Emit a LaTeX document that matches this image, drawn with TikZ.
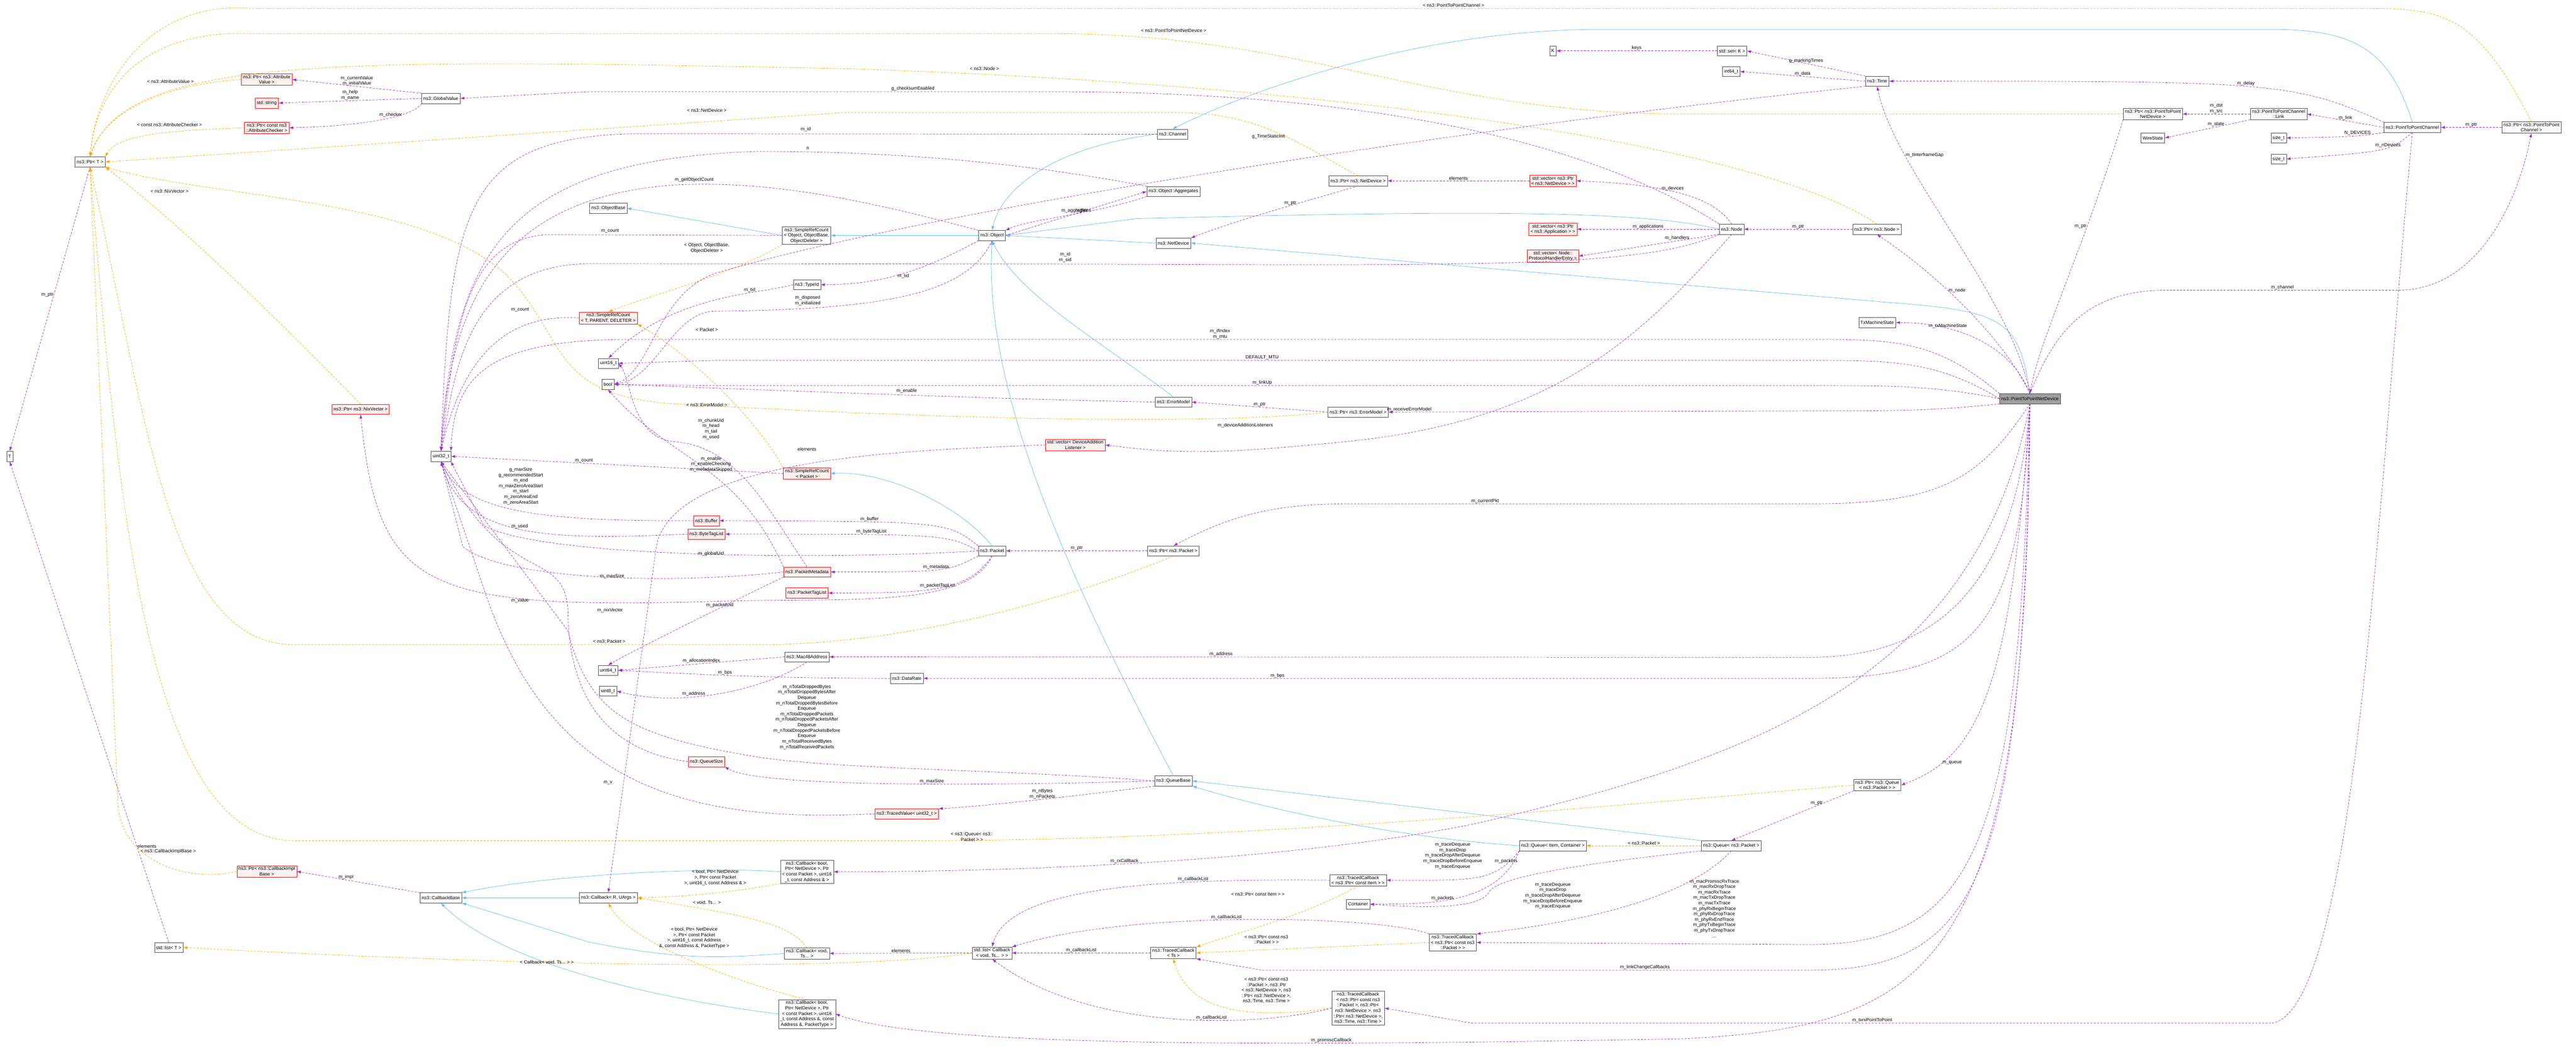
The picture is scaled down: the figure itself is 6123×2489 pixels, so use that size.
\documentclass[tikz,border=0pt]{standalone}
\usepackage{fontspec}
\setmainfont{Liberation Sans}
\usetikzlibrary{arrows.meta}
\definecolor{cpur}{HTML}{9A32CD}
\definecolor{corg}{HTML}{FFA500}
\definecolor{cblu}{HTML}{63B8FF}
\tikzset{
 bx/.style={draw=gray!60!black,fill=white,inner xsep=4pt,inner ysep=3pt,minimum height=24pt,align=center,font=\fontsize{11}{13}\selectfont},
 rbx/.style={bx,draw=red,fill=red!6},
 gbx/.style={bx,fill=gray!75},
 lbl/.style={font=\fontsize{11}{13}\selectfont,align=center,inner sep=1pt},
 uline/.style={draw=cpur,dashed,dash pattern=on 5pt off 3pt,line width=0.9pt,-{Latex[length=10pt,width=7pt]}},
 tline/.style={draw=corg,dashed,dash pattern=on 5pt off 3pt,line width=0.9pt,-{Latex[length=10pt,width=7pt]}},
 iline/.style={draw=cblu,line width=0.9pt,-{Latex[length=10pt,width=7pt]}},
}
\begin{document}
\begin{tikzpicture}[x=1pt,y=-1pt]
\useasboundingbox (0,0) rectangle (6123,2489);
% nodes
\node[bx] (ptrT) at (214,385) {ns3::Ptr< T >};
\node[bx] (T) at (23,1085) {T};
\node[rbx] (pav) at (634,189) {ns3::Ptr< ns3::Attribute\\Value >};
\node[rbx] (str) at (634,245) {std::string};
\node[rbx] (pac) at (634,304) {ns3::Ptr< const ns3\\::AttributeChecker >};
\node[bx] (gv) at (1048,234) {ns3::GlobalValue};
\node[bx] (ob) at (1446,495) {ns3::ObjectBase};
\node[bx] (src) at (1917,560) {ns3::SimpleRefCount\\< Object, ObjectBase,\\ObjectDeleter >};
\node[bx] (tid) at (1918,677) {ns3::TypeId};
\node[rbx] (srt) at (1446,756) {ns3::SimpleRefCount\\< T, PARENT, DELETER >};
\node[bx] (u16) at (1446,864) {uint16\_t};
\node[bx] (bool) at (1445,914) {bool};
\node[rbx] (pnix) at (857,973) {ns3::Ptr< ns3::NixVector >};
\node[bx] (u32) at (1048,1085) {uint32\_t};
\node[rbx] (srp) at (1918,1126) {ns3::SimpleRefCount\\< Packet >};
\node[rbx] (buf) at (1679,1238) {ns3::Buffer};
\node[rbx] (btl) at (1679,1270) {ns3::ByteTagList};
\node[rbx] (pmd) at (1918,1360) {ns3::PacketMetadata};
\node[rbx] (ptl) at (1918,1410) {ns3::PacketTagList};
\node[bx] (mac) at (1918,1562) {ns3::Mac48Address};
\node[bx] (u64) at (1445,1594) {uint64\_t};
\node[bx] (u8) at (1445,1643) {uint8\_t};
\node[rbx] (qs) at (1679,1811) {ns3::QueueSize};
\node[rbx] (pcib) at (634,2072) {ns3::Ptr< ns3::CallbackImpl\\Base >};
\node[bx] (cbb) at (1048,2135) {ns3::CallbackBase};
\node[bx] (cbr) at (1446,2135) {ns3::Callback< R, UArgs >};
\node[bx] (cb1) at (1918,2073) {ns3::Callback< bool,\\Ptr< NetDevice >, Ptr\\< const Packet >, uint16\\\_t, const Address \& >};
\node[bx] (cbv) at (1918,2267) {ns3::Callback< void,\\Ts... >};
\node[bx] (cb3) at (1918,2411) {ns3::Callback< bool,\\Ptr< NetDevice >, Ptr\\< const Packet >, uint16\\\_t, const Address \&, const\\Address \&, PacketType >};
\node[bx] (lstT) at (401,2253) {std::list< T >};
\node[bx] (chan) at (2787,319) {ns3::Channel};
\node[bx] (obj) at (2358,560) {ns3::Object};
\node[bx] (agg) at (2789,455) {ns3::Object::Aggregates};
\node[bx] (nd) at (2789,578) {ns3::NetDevice};
\node[bx] (pnd) at (3228,430) {ns3::Ptr< ns3::NetDevice >};
\node[rbx] (vnd) at (3691,430) {std::vector< ns3::Ptr\\< ns3::NetDevice > >};
\node[rbx] (vapp) at (3691,545) {std::vector< ns3::Ptr\\< ns3::Application > >};
\node[rbx] (vph) at (3691,609) {std::vector< Node::\\ProtocolHandlerEntry >};
\node[bx] (node) at (4116,545) {ns3::Node};
\node[bx] (K) at (3691,121) {K};
\node[bx] (set) at (4117,121) {std::set< K >};
\node[bx] (i64) at (4115,170) {int64\_t};
\node[bx] (em) at (2789,956) {ns3::ErrorModel};
\node[bx] (pem) at (3228,980) {ns3::Ptr< ns3::ErrorModel >};
\node[rbx] (vdal) at (2556,1058) {std::vector< DeviceAddition\\Listener >};
\node[bx] (time) at (4462,193) {ns3::Time};
\node[bx] (pp2nd) at (5117,271) {ns3::Ptr< ns3::PointToPoint\\NetDevice >};
\node[bx] (link) at (5416,271) {ns3::PointToPointChannel\\::Link};
\node[bx] (ws) at (5117,328) {WireState};
\node[bx] (p2c) at (5734,303) {ns3::PointToPointChannel};
\node[bx] (sz1) at (5416,328) {size\_t};
\node[bx] (sz2) at (5416,378) {size\_t};
\node[bx] (pp2c) at (6017,303) {ns3::Ptr< ns3::PointToPoint\\Channel >};
\node[bx] (pnode) at (4461,545) {ns3::Ptr< ns3::Node >};
\node[bx] (txm) at (4462,767) {TxMachineState};
\node[gbx] (p2p) at (4825,948) {ns3::PointToPointNetDevice};
\node[bx] (pkt) at (2358,1310) {ns3::Packet};
\node[bx] (ppkt) at (2789,1310) {ns3::Ptr< ns3::Packet >};
\node[bx] (dr) at (2155,1613) {ns3::DataRate};
\node[bx] (qb) at (2789,1857) {ns3::QueueBase};
\node[rbx] (tv) at (2155,1935) {ns3::TracedValue< uint32\_t >};
\node[bx] (qic) at (3691,2011) {ns3::Queue< Item, Container >};
\node[bx] (qp) at (4115,2011) {ns3::Queue< ns3::Packet >};
\node[bx] (tci) at (3228,2093) {ns3::TracedCallback\\< ns3::Ptr< const Item > >};
\node[bx] (cont) at (3228,2150) {Container};
\node[bx] (tcp) at (3453,2241) {ns3::TracedCallback\\< ns3::Ptr< const ns3\\::Packet > >};
\node[bx] (lcb) at (2358,2266) {std::list< Callback\\< void, Ts... > >};
\node[bx] (tcts) at (2789,2266) {ns3::TracedCallback\\< Ts >};
\node[bx] (tc5) at (3228,2397) {ns3::TracedCallback\\< ns3::Ptr< const ns3\\::Packet >, ns3::Ptr<\\ns3::NetDevice >, ns3\\::Ptr< ns3::NetDevice >,\\ns3::Time, ns3::Time >};
\node[bx] (pqp) at (4462,1867) {ns3::Ptr< ns3::Queue\\< ns3::Packet > >};

% inheritance
\draw[iline] (src.west) -- (ob.east);
\draw[iline] (obj.west) -- (src.east);
\draw[iline] (chan.west) .. controls (2500,350) and (2380,450) .. (obj.north);
\draw[iline] (nd.west) -- (obj.east);
\draw[iline] (node.west) .. controls (3900,500) and (3500,500) .. (2700,520) -- (obj.east);
\draw[iline] (em.north) .. controls (2600,800) and (2420,700) .. (obj.south);
\draw[iline] (qb.north) .. controls (2500,1300) and (2340,900) .. (obj.south);
\draw[iline] (p2p.north) .. controls (4800,760) and (4760,740) .. (4500,720) -- (nd.east);
\draw[iline] (p2c.north) .. controls (5680,120) and (5600,70) .. (5400,70) -- (3800,70) .. controls (3400,70) and (3000,200) .. (chan.north);
\draw[iline] (pkt.north) .. controls (2280,1200) and (2100,1118) .. (srp.east);
\draw[iline] (qic.west) .. controls (3300,1990) and (3000,1920) .. (qb.south east);
\draw[iline] (qp.north west) -- (qb.east);
\draw[iline] (cbr.west) -- (cbb.east);
\draw[iline] (cb1.west) .. controls (1700,2060) and (1300,2080) .. (cbb.north east);
\draw[iline] (cbv.west) .. controls (1700,2280) and (1600,2280) .. (1400,2240) -- (cbb.south east);
\draw[iline] (cb3.west) .. controls (1600,2380) and (1200,2300) .. (cbb.south);

% template
\draw[tline] (pav.west) .. controls (400,200) and (250,260) .. (ptrT.north);
\node[lbl] at (405,194) {< ns3::AttributeValue >};
\draw[tline] (pac.west) .. controls (400,310) and (280,320) .. (ptrT.north east);
\node[lbl] at (403,297) {< const ns3::AttributeChecker >};
\draw[tline] (pnix.north) .. controls (700,800) and (450,550) .. (ptrT.south east);
\node[lbl] at (403,455) {< ns3::NixVector >};
\draw[tline] (pnd.north) .. controls (3100,350) and (3000,268) .. (2800,268) -- (2000,268) -- (ptrT.east);
\node[lbl] at (1680,262) {< ns3::NetDevice >};
\draw[tline] (pnode.north) .. controls (4200,350) and (3200,200) .. (2000,163) .. controls (800,140) and (300,130) .. (ptrT.north);
\node[lbl] at (2340,163) {< ns3::Node >};
\draw[tline] (pp2nd.west) -- (4000,271) .. controls (3400,271) and (3100,80) .. (2500,80) -- (600,80) .. controls (350,70) and (230,200) .. (ptrT.north);
\node[lbl] at (2790,72) {< ns3::PointToPointNetDevice >};
\draw[tline] (pp2c.north) .. controls (5880,20) and (5800,20) .. (5600,20) -- (600,20) .. controls (350,0) and (230,200) .. (ptrT.north);
\node[lbl] at (3455,12) {< ns3::PointToPointChannel >};
\draw[tline] (pem.west) .. controls (2900,1010) and (2300,1000) .. (1600,960) .. controls (1300,940) and (1350,800) .. (1200,650) .. controls (1000,470) and (500,470) .. (ptrT.south east);
\node[lbl] at (1680,963) {< ns3::ErrorModel >};
\draw[tline] (ppkt.south) .. controls (2600,1400) and (2200,1533) .. (1800,1533) -- (700,1533) .. controls (400,1533) and (350,1000) .. (ptrT.south);
\node[lbl] at (1448,1525) {< ns3::Packet >};
\draw[tline] (pqp.west) .. controls (4000,1900) and (3000,1999) .. (2200,1999) -- (700,1999) .. controls (350,1999) and (280,1200) .. (ptrT.south);
\node[lbl] at (2310,1990) {< ns3::Queue< ns3::\\Packet > >};
\draw[tline] (pcib.west) .. controls (450,2100) and (280,2050) .. (280,1900) -- (ptrT.south);
\node[lbl] at (400,2025) {< ns3::CallbackImplBase >};
\draw[tline] (src.south west) .. controls (1750,650) and (1550,700) .. (srt.north);
\node[lbl] at (1680,590) {< Object, ObjectBase,\\ObjectDeleter >};
\draw[tline] (srp.north west) .. controls (1800,1000) and (1650,850) .. (srt.south east);
\node[lbl] at (1680,784) {< Packet >};
\draw[tline] (cb1.south west) .. controls (1800,2110) and (1700,2130) .. (cbr.east);
\node[lbl] at (1700,2087) {< bool, Ptr< NetDevice\\>, Ptr< const Packet\\>, uint16\_t, const Address \& >};
\draw[tline] (cbv.north) .. controls (1880,2200) and (1800,2180) .. (cbr.east);
\node[lbl] at (1680,2146) {< void, Ts... >};
\draw[tline] (cb3.north) .. controls (1800,2350) and (1500,2250) .. (cbr.south);
\node[lbl] at (1650,2230) {< bool, Ptr< NetDevice\\>, Ptr< const Packet\\>, uint16\_t, const Address\\\&, const Address \&, PacketType >};
\draw[tline] (lcb.west) .. controls (2100,2300) and (1500,2310) .. (lstT.east);
\node[lbl] at (1300,2289) {< Callback< void, Ts... > >};
\draw[tline] (qp.west) -- node[lbl,above]{< ns3::Packet >} (qic.east);
\draw[tline] (tci.south) .. controls (3100,2180) and (2900,2230) .. (tcts.north east);
\node[lbl] at (2990,2126) {< ns3::Ptr< const Item > >};
\draw[tline] (tcp.west) -- (tcts.east);
\node[lbl] at (3010,2234) {< ns3::Ptr< const ns3\\::Packet > >};
\draw[tline] (tc5.west) .. controls (3000,2420) and (2830,2420) .. (tcts.south);
\node[lbl] at (3010,2355) {< ns3::Ptr< const ns3\\::Packet >, ns3::Ptr\\< ns3::NetDevice >, ns3\\::Ptr< ns3::NetDevice >,\\ns3::Time, ns3::Time >};

% usage
\draw[uline] (ptrT.south) -- node[lbl,pos=0.45,left]{m\_ptr} (T.north);
\draw[uline] (lstT.north) -- node[lbl,pos=0.2,right]{elements} (T.south);
\draw[uline] (gv.north west) -- node[lbl,above]{m\_currentValue\\m\_initialValue} (pav.east);
\draw[uline] (gv.west) -- node[lbl,above]{m\_help\\m\_name} (str.east);
\draw[uline] (gv.south west) .. controls (980,280) and (850,300) .. node[lbl,above,pos=0.4]{m\_checker} (pac.east);
\draw[uline] (node.north west) .. controls (3800,350) and (3300,218) .. (2500,218) -- node[lbl,above,pos=0.3]{g\_checksumEnabled} (1400,218) -- (gv.east);
\draw[uline] (chan.west) -- (1500,318) .. controls (1100,330) and (1070,500) .. (u32.north);
\node[lbl] at (1915,308) {m\_id};
\draw[uline] (agg.north west) .. controls (2500,400) and (2200,360) .. (1800,360) .. controls (1200,380) and (1080,600) .. (u32.north);
\node[lbl] at (1920,353) {n};
\draw[uline] (obj.north west) .. controls (2000,460) and (1800,430) .. (1600,440) .. controls (1200,470) and (1070,700) .. (u32.north);
\node[lbl] at (1650,428) {m\_getObjectCount};
\draw[uline] (src.west) -- (1300,558) .. controls (1100,570) and (1080,800) .. (u32.north);
\node[lbl] at (1450,549) {m\_count};
\draw[uline] (srt.west) .. controls (1200,745) and (1100,850) .. (u32.north);
\node[lbl] at (1236,736) {m\_count};
\draw[uline] (srp.west) -- node[lbl,above,pos=0.6]{m\_count} (u32.east);
\draw[uline] (node.south west) .. controls (3900,640) and (3500,630) .. (2500,628) -- (1400,627) .. controls (1100,630) and (1080,900) .. (u32.north);
\node[lbl] at (2532,612) {m\_id\\m\_sid};
\draw[uline] (obj.east) -- node[lbl,above]{m\_aggregates} (agg.west);
\draw[uline] (agg.south west) .. controls (2600,510) and (2450,520) .. node[lbl,above,pos=0.4]{buffer} (obj.north east);
\draw[uline] (obj.south west) .. controls (2200,640) and (2100,677) .. node[lbl,below,pos=0.5]{m\_tid} (tid.east);
\draw[uline] (tid.west) .. controls (1800,700) and (1600,700) .. node[lbl,above,pos=0.3]{m\_tid} (u16.north);
\draw[uline] (obj.south) .. controls (2300,700) and (2100,736) .. (1700,740) .. controls (1600,740) and (1560,900) .. (bool.east);
\node[lbl] at (1920,715) {m\_disposed\\m\_initialized};
\draw[uline] (vnd.west) -- node[lbl,above]{elements} (pnd.east);
\draw[uline] (pnd.south) .. controls (3100,480) and (2950,520) .. node[lbl,above,pos=0.4]{m\_ptr} (nd.north east);
\draw[uline] (node.north) .. controls (4080,480) and (4000,440) .. node[lbl,above,pos=0.6]{m\_devices} (vnd.east);
\draw[uline] (node.west) -- node[lbl,above]{m\_applications} (vapp.east);
\draw[uline] (node.south west) -- node[lbl,above,pos=0.3]{m\_handlers} (vph.east);
\draw[uline] (node.south) .. controls (3900,800) and (3700,1000) .. (3200,1050) .. controls (2900,1080) and (2800,1080) .. (vdal.east);
\node[lbl] at (2960,1012) {m\_deviceAdditionListeners};
\draw[uline] (vdal.west) .. controls (2200,1070) and (1600,1080) .. (1560,1300) -- (cbr.north);
\node[lbl] at (1918,1068) {elements};
\draw[uline] (em.west) .. controls (2400,950) and (1900,930) .. (bool.east);
\node[lbl] at (2155,930) {m\_enable};
\draw[uline] (pem.west) -- node[lbl,above]{m\_ptr} (em.east);
\draw[uline] (pnode.west) -- node[lbl,above]{m\_ptr} (node.east);
\draw[uline] (set.west) -- node[lbl,above]{keys} (K.east);
\draw[uline] (time.north west) -- node[lbl,above]{g\_markingTimes} (set.east);
\draw[uline] (time.west) -- node[lbl,above]{m\_data} (i64.east);
\draw[uline] (time.south west) .. controls (3500,300) and (2200,500) .. (1700,650) .. controls (1560,700) and (1550,880) .. (bool.east);
\node[lbl] at (3015,325) {g\_TimeStaticInit};
\draw[uline] (p2c.north west) .. controls (5450,193) and (5400,193) .. node[lbl,above]{m\_delay} (time.east);
\draw[uline] (p2c.west) -- node[lbl,above]{m\_link} (link.east);
\draw[uline] (p2c.south west) .. controls (5600,325) .. node[lbl,above,pos=0.4]{N\_DEVICES} (sz1.east);
\draw[uline] (p2c.south) .. controls (5680,360) .. node[lbl,above,pos=0.4]{m\_nDevices} (sz2.east);
\draw[uline] (pp2c.west) -- node[lbl,above]{m\_ptr} (p2c.east);
\draw[uline] (link.west) -- node[lbl,above]{m\_dst\\m\_src} (pp2nd.east);
\draw[uline] (link.south west) -- node[lbl,above,pos=0.4]{m\_state} (ws.east);
\draw[uline] (pp2nd.south west) .. controls (4950,600) and (4850,800) .. node[lbl,pos=0.3,left]{m\_ptr} (p2p.north);
\draw[uline] (p2p.north) .. controls (4780,700) and (4500,400) .. node[lbl,right,pos=0.75]{m\_tInterframeGap} (time.south);
\draw[uline] (p2p.north) .. controls (4760,800) and (4600,650) .. node[lbl,right,pos=0.6]{m\_node} (pnode.south);
\draw[uline] (p2p.north) .. controls (4780,820) and (4650,767) .. node[lbl,above,pos=0.7]{m\_txMachineState} (txm.east);
\draw[uline] (p2p.north) .. controls (4880,800) and (4950,690) .. (5150,690) -- node[lbl,above]{m\_channel} (5700,690) .. controls (5880,690) and (5980,500) .. (pp2c.south);
\draw[uline] (p2c.south) .. controls (5650,1200) and (5600,2400) .. (5400,2433) -- node[lbl,above,pos=0.5]{m\_txrxPointToPoint} (3500,2433) -- (tc5.east);
\draw[uline] (p2p.north west) .. controls (4600,807) and (4500,807) .. (4300,807) -- node[lbl,above,pos=0.5]{m\_ifIndex\\m\_mtu} (1500,807) .. controls (1150,807) and (1080,900) .. (u32.north east);
\draw[uline] (p2p.west) .. controls (4600,857) and (4500,857) .. (4300,857) -- node[lbl,above,pos=0.5]{DEFAULT\_MTU} (1700,857) -- (u16.east);
\draw[uline] (p2p.west) .. controls (4600,917) and (4500,917) .. (4300,917) -- node[lbl,above,pos=0.5]{m\_linkUp} (1700,917) -- (bool.east);
\draw[uline] (p2p.south west) .. controls (4600,977) and (4500,977) .. (4300,977) -- node[lbl,above,pos=0.95]{m\_receiveErrorModel} (pem.east);
\draw[uline] (p2p.south) .. controls (4700,1150) and (4600,1198) .. (4300,1198) -- node[lbl,above,pos=0.7]{m\_currentPkt} (3200,1198) .. controls (3000,1198) and (2900,1240) .. (ppkt.north);
\draw[uline] (p2p.south) .. controls (4790,1400) and (4600,1563) .. (4300,1563) -- node[lbl,above,pos=0.6]{m\_address} (mac.east);
\draw[uline] (p2p.south) .. controls (4800,1500) and (4700,1613) .. (4300,1613) -- node[lbl,above,pos=0.6]{m\_bps} (dr.east);
\draw[uline] (p2p.south) .. controls (4780,1650) and (4700,1800) .. node[lbl,right,pos=0.8]{m\_queue} (pqp.east);
\draw[uline] (p2p.south) .. controls (4700,1600) and (4200,1800) .. (3500,1960) .. controls (3000,2060) and (2300,2073) .. node[lbl,above,pos=0.5]{m\_rxCallback} (cb1.east);
\draw[uline] (p2p.south) .. controls (4800,2000) and (4700,2246) .. (4300,2246) -- (tcp.east);
\node[lbl] at (4075,2160) {m\_macPromiscRxTrace\\m\_macRxDropTrace\\m\_macRxTrace\\m\_macTxDropTrace\\m\_macTxTrace\\m\_phyRxBeginTrace\\m\_phyRxDropTrace\\m\_phyRxEndTrace\\m\_phyTxBeginTrace\\m\_phyTxDropTrace\\...};
\draw[uline] (p2p.south) .. controls (4810,2100) and (4700,2307) .. (4300,2307) -- node[lbl,above,pos=0.3]{m\_linkChangeCallbacks} (3000,2307) -- (tcts.south east);
\draw[uline] (p2p.south) .. controls (4820,2300) and (4600,2440) .. (4000,2470) .. controls (3000,2489) and (2200,2489) .. node[lbl,above,pos=0.3]{m\_promiscCallback} (cb3.east);
\draw[uline] (ppkt.west) -- node[lbl,above]{m\_ptr} (pkt.east);
\draw[uline] (pkt.north west) .. controls (2250,1240) .. node[lbl,above,pos=0.7]{m\_buffer} (buf.east);
\draw[uline] (pkt.west) .. controls (2250,1270) .. node[lbl,above,pos=0.7]{m\_byteTagList} (btl.east);
\draw[uline] (pkt.west) .. controls (2000,1330) and (1300,1330) .. (1150,1250) -- (u32.south east);
\node[lbl] at (1690,1317) {m\_globalUid};
\draw[uline] (pkt.south west) .. controls (2250,1360) .. node[lbl,above,pos=0.5]{m\_metadata} (pmd.east);
\draw[uline] (pkt.south) .. controls (2300,1410) and (2200,1410) .. node[lbl,above,pos=0.5]{m\_packetTagList} (ptl.east);
\draw[uline] (pkt.south) .. controls (2300,1450) and (2000,1420) .. (1700,1430) .. controls (1000,1450) and (900,1400) .. (pnix.south);
\node[lbl] at (1450,1451) {m\_nixVector};
\draw[uline] (buf.west) .. controls (1300,1240) and (1100,1220) .. (u32.south);
\node[lbl] at (1238,1156) {g\_maxSize\\g\_recommendedStart\\m\_end\\m\_maxZeroAreaStart\\m\_start\\m\_zeroAreaEnd\\m\_zeroAreaStart};
\draw[uline] (btl.west) .. controls (1300,1285) and (1100,1280) .. node[lbl,above,pos=0.5]{m\_used} (u32.south);
\draw[uline] (pmd.west) .. controls (1600,1390) and (1200,1380) .. (1100,1300) -- (u32.south);
\node[lbl] at (1455,1370) {m\_maxSize};
\draw[uline] (pmd.north) .. controls (1820,1200) and (1750,1060) .. (1600,1050) .. controls (1500,1040) and (1500,900) .. (u16.east);
\node[lbl] at (1690,1020) {m\_chunkUid\\m\_head\\m\_tail\\m\_used};
\draw[uline] (pmd.north west) .. controls (1750,1100) and (1600,1100) .. (bool.south);
\node[lbl] at (1690,1104) {m\_enable\\m\_enableChecking\\m\_metadataSkipped};
\draw[uline] (pmd.south west) .. controls (1700,1450) and (1500,1550) .. node[lbl,above,pos=0.3]{m\_packetUid} (u64.north);
\draw[uline] (mac.west) -- node[lbl,above]{m\_allocationIndex} (u64.east);
\draw[uline] (dr.west) .. controls (1800,1613) and (1600,1600) .. node[lbl,above,pos=0.5]{m\_bps} (u64.east);
\draw[uline] (mac.south) .. controls (1800,1650) and (1600,1680) .. node[lbl,above,pos=0.6]{m\_address} (u8.east);
\draw[uline] (qs.west) .. controls (1400,1780) and (1350,1600) .. (1350,1450) .. controls (1340,1300) and (1200,1400) .. (u32.south);
\node[lbl] at (1236,1428) {m\_value};
\draw[uline] (tv.west) .. controls (1600,1960) and (1300,1850) .. (1150,1400) -- (u32.south);
\node[lbl] at (1445,1861) {m\_v};
\draw[uline] (qb.west) .. controls (2400,1830) and (2000,1830) .. (1800,1800) .. controls (1500,1750) and (1400,1700) .. (1350,1500) -- (u32.south);
\node[lbl] at (1918,1705) {m\_nTotalDroppedBytes\\m\_nTotalDroppedBytesAfter\\Dequeue\\m\_nTotalDroppedBytesBefore\\Enqueue\\m\_nTotalDroppedPackets\\m\_nTotalDroppedPacketsAfter\\Dequeue\\m\_nTotalDroppedPacketsBefore\\Enqueue\\m\_nTotalReceivedBytes\\m\_nTotalReceivedPackets};
\draw[uline] (qb.west) .. controls (2300,1870) and (1800,1870) .. node[lbl,above,pos=0.4]{m\_maxSize} (qs.south east);
\draw[uline] (qb.south west) .. controls (2500,1900) and (2300,1920) .. node[lbl,above,pos=0.4]{m\_nBytes\\m\_nPackets} (tv.north east);
\draw[uline] (qic.south west) .. controls (3550,2100) and (3500,2093) .. (tci.east);
\node[lbl] at (3453,2035) {m\_traceDequeue\\m\_traceDrop\\m\_traceDropAfterDequeue\\m\_traceDropBeforeEnqueue\\m\_traceEnqueue};
\draw[uline] (qic.south west) .. controls (3560,2150) and (3400,2150) .. node[lbl,above,pos=0.6]{m\_packets} (cont.east);
\draw[uline] (qp.south west) .. controls (3700,2060) and (3560,2090) .. (3540,2120) .. controls (3520,2160) and (3400,2160) .. (cont.east);
\node[lbl] at (3580,2048) {m\_packets};
\draw[uline] (qp.south) .. controls (4000,2150) and (3700,2200) .. (tcp.north east);
\node[lbl] at (3691,2130) {m\_traceDequeue\\m\_traceDrop\\m\_traceDropAfterDequeue\\m\_traceDropBeforeEnqueue\\m\_traceEnqueue};
\draw[uline] (tci.west) .. controls (2800,2090) and (2400,2100) .. node[lbl,above,pos=0.3]{m\_callbackList} (lcb.north);
\draw[uline] (tcp.north west) .. controls (3300,2180) and (2700,2160) .. node[lbl,above,pos=0.55]{m\_callbackList} (lcb.north east);
\draw[uline] (tcts.west) -- node[lbl,above]{m\_callbackList} (lcb.east);
\draw[uline] (tc5.west) .. controls (3000,2440) and (2600,2460) .. node[lbl,above,pos=0.4]{m\_callbackList} (lcb.south);
\draw[uline] (lcb.west) -- node[lbl,above]{elements} (cbv.east);
\draw[uline] (cbb.north west) -- node[lbl,above,pos=0.6]{m\_impl} (pcib.east);
\draw[uline] (pqp.south west) -- node[lbl,above,pos=0.3]{m\_ptr} (qp.north);
\end{tikzpicture}
\end{document}
